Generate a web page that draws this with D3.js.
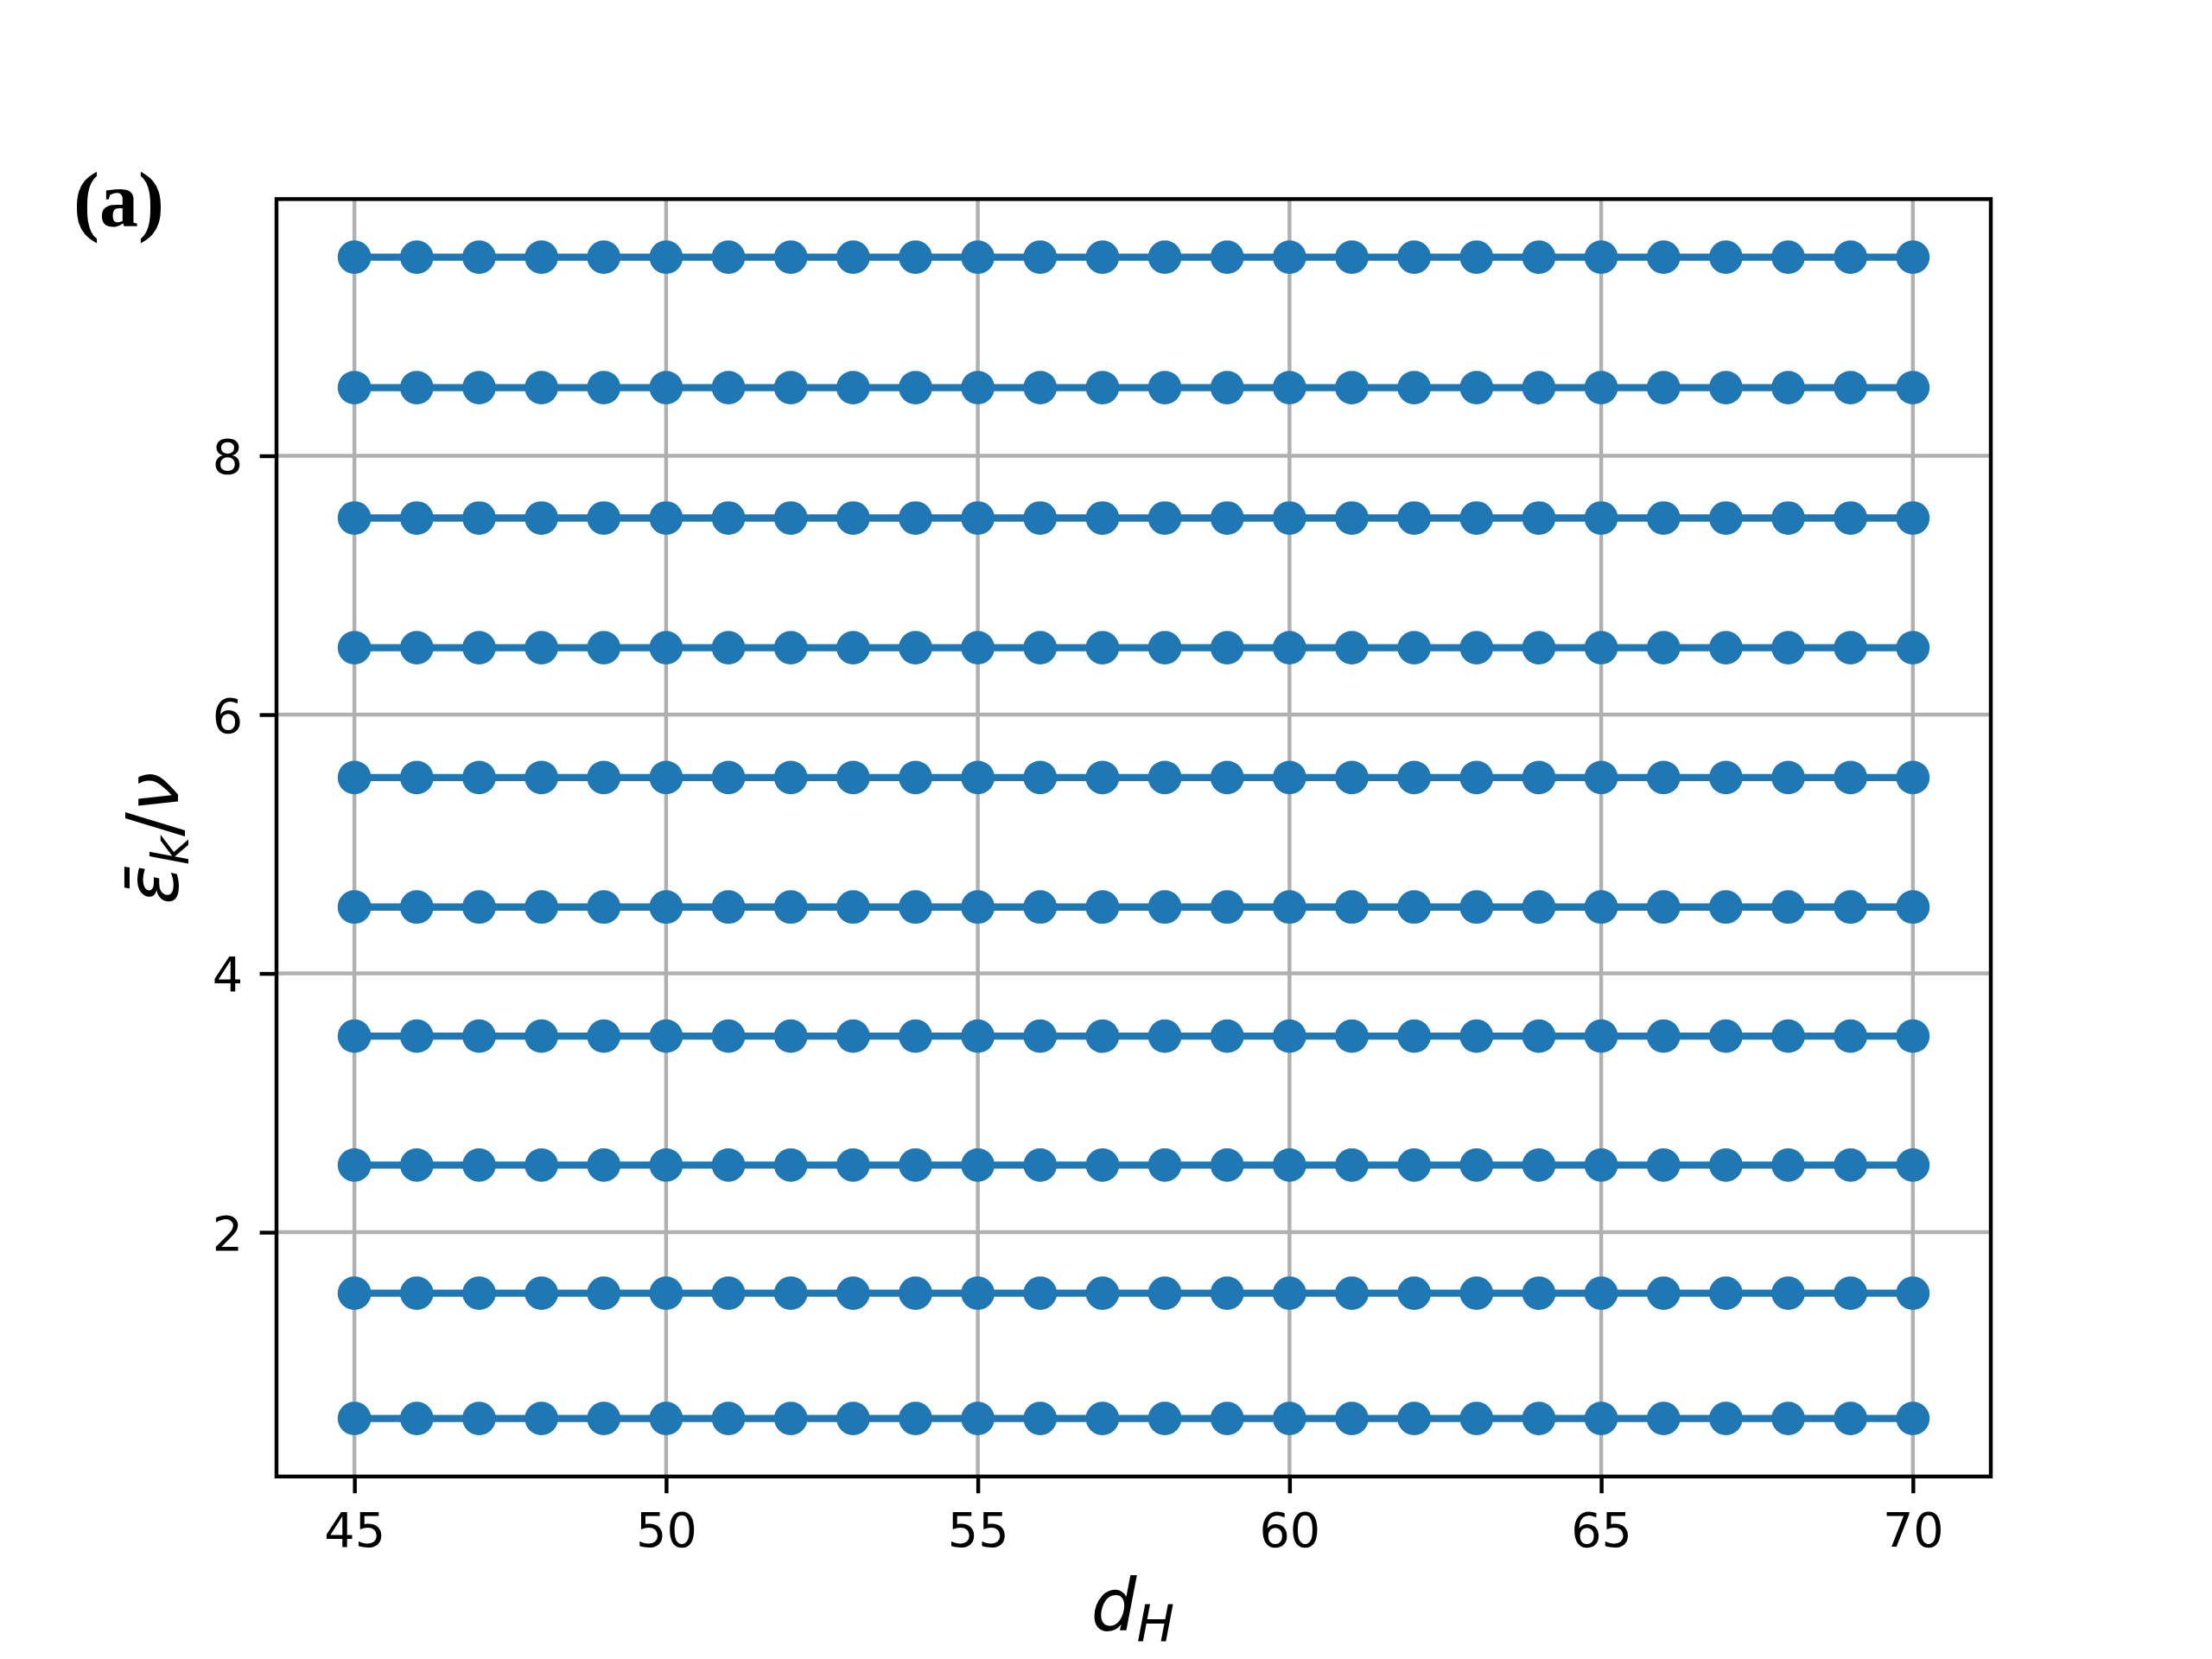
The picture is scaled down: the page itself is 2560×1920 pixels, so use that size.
<!DOCTYPE html>
<html>
<head>
<meta charset="utf-8">
<script src="https://cdn.jsdelivr.net/npm/d3@7"></script>
<style>
  html, body { margin: 0; padding: 0; background: #ffffff; }
  svg { display: block; }
</style>
</head>
<body>
<svg id="chart" width="2560" height="1920"></svg>
<script>
// ---- data ----
const dH = [45, 46, 47, 48, 49, 50, 51, 52, 53, 54, 55, 56, 57, 58, 59, 60,
            61, 62, 63, 64, 65, 66, 67, 68, 69, 70];
const levels = [0.561, 1.529, 2.519, 3.515, 4.513, 5.514, 6.517, 7.519, 8.527, 9.535];
const xTicks = [45, 50, 55, 60, 65, 70];
const yTicks = [2, 4, 6, 8];

// ---- layout ----
const W = 2560, H = 1920;
const L = 320, R = 2304, T = 230.4, B = 1708.8;
const blue = "#1f77b4";
const font = "'DejaVu Sans', sans-serif";

const svg = d3.select("#chart");
svg.append("rect").attr("width", W).attr("height", H).attr("fill", "#fff");

const xMin = d3.min(dH), xMax = d3.max(dH);
const xPad = (xMax - xMin) * 0.05;
const yMin = d3.min(levels), yMax = d3.max(levels);
const yPad = (yMax - yMin) * 0.05;

const x = d3.scaleLinear().domain([xMin - xPad, xMax + xPad]).range([L, R]);
const y = d3.scaleLinear().domain([yMin - yPad, yMax + yPad]).range([B, T]);

// grid
const grid = svg.append("g");
grid.selectAll("line.vx").data(xTicks).join("line")
  .attr("x1", d => x(d)).attr("x2", d => x(d)).attr("y1", T).attr("y2", B)
  .attr("stroke", "#b0b0b0").attr("stroke-width", 4.44);
grid.selectAll("line.hy").data(yTicks).join("line")
  .attr("y1", d => y(d)).attr("y2", d => y(d)).attr("x1", L).attr("x2", R)
  .attr("stroke", "#b0b0b0").attr("stroke-width", 4.44);

// series
const series = levels.map(v => dH.map(d => ({ x: d, y: v })));
const line = d3.line().x(d => x(d.x)).y(d => y(d.y));
const sg = svg.append("g");
series.forEach(s => {
  const g = sg.append("g");
  g.append("path").attr("d", line(s)).attr("fill", "none")
    .attr("stroke", blue).attr("stroke-width", 8.33);
  g.selectAll("circle").data(s).join("circle")
    .attr("cx", d => x(d.x)).attr("cy", d => y(d.y)).attr("r", 19.4)
    .attr("fill", blue);
});

// axes
const xAxis = svg.append("g").attr("transform", `translate(0,${B})`)
  .call(d3.axisBottom(x).tickValues(xTicks).tickSize(19.4).tickPadding(19.4).tickFormat(d3.format("d")));
const yAxis = svg.append("g").attr("transform", `translate(${L},0)`)
  .call(d3.axisLeft(y).tickValues(yTicks).tickSize(19.4).tickPadding(19.4).tickFormat(d3.format("d")));
[xAxis, yAxis].forEach(a => {
  a.select(".domain").remove();
  a.selectAll(".tick line").attr("stroke", "#000").attr("stroke-width", 4.44);
  a.selectAll(".tick text").attr("fill", "#000")
    .style("font-family", font).style("font-size", "55.6px");
});
xAxis.selectAll(".tick text").attr("y", 0).attr("dy", null)
  .attr("transform", null).attr("y", 1790.5 - B);
yAxis.selectAll(".tick text").attr("dy", "0.36em");

// spines
svg.append("rect").attr("x", L).attr("y", T).attr("width", R - L).attr("height", B - T)
  .attr("fill", "none").attr("stroke", "#000").attr("stroke-width", 4.44);

// x label d_H
const xl = svg.append("text").attr("x", 1311).attr("y", 1887)
  .attr("text-anchor", "middle").style("font-family", font).style("font-size", "83px")
  .style("font-style", "italic").attr("fill", "#000");
xl.append("tspan").text("d");
xl.append("tspan").attr("dy", 12).style("font-size", "58px").text("H");

// y label  ε̄_k / ν
const yl = svg.append("text").attr("transform", "translate(206,970) rotate(-90)")
  .attr("text-anchor", "middle").style("font-family", font).style("font-size", "83px")
  .style("font-style", "italic").attr("fill", "#000");
yl.append("tspan").text("\u03B5\u0304");
yl.append("tspan").attr("dy", 12).style("font-size", "58px").text("k");
yl.append("tspan").attr("dy", -12).style("font-style", "normal").text("/");
yl.append("tspan").text("\u03BD");

// panel label
svg.append("text").attr("x", 85).attr("y", 262)
  .style("font-family", "'Liberation Serif', 'DejaVu Serif', serif")
  .style("font-size", "90px").style("font-weight", "bold").attr("fill", "#000")
  .text("(a)");
</script>
</body>
</html>
